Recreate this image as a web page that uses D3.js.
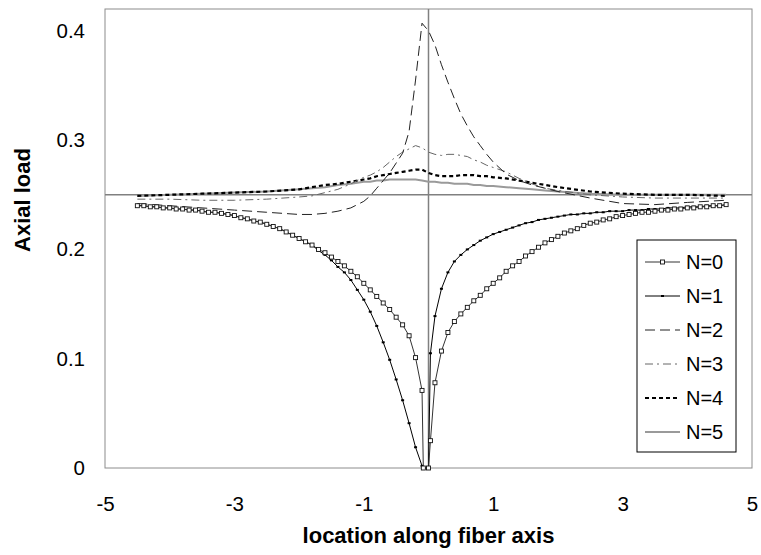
<!DOCTYPE html>
<html>
<head>
<meta charset="utf-8">
<script src="https://cdn.jsdelivr.net/npm/d3@7/dist/d3.min.js"></script>
<style>
  body { margin: 0; background: #fff; }
  text { font-family: "Liberation Sans", Arial, sans-serif; }
</style>
</head>
<body>
<div class="canvas"></div>
<script>
// x grid for the marked series (N=0, N=1)
const xsFine = [-4.5,-4.4,-4.3,-4.2,-4.1,-4.0,-3.9,-3.8,-3.7,-3.6,-3.5,-3.4,-3.3,-3.2,-3.1,-3.0,-2.9,-2.8,-2.7,-2.6,
  -2.5,-2.4,-2.3,-2.2,-2.1,-2.0,-1.9,-1.8,-1.7,-1.6,-1.5,-1.4,-1.3,-1.2,-1.1,-1.0,-0.9,-0.8,-0.7,-0.6,
  -0.5,-0.4,-0.3,-0.2,-0.1,-0.08,0,0.03,0.1,0.2,0.3,0.4,0.5,0.6,0.7,0.8,0.9,1.0,1.1,1.2,1.3,1.4,1.5,1.6,1.7,1.8,1.9,2.0,
  2.1,2.2,2.3,2.4,2.5,2.6,2.7,2.8,2.9,3.0,3.1,3.2,3.3,3.4,3.5,3.6,3.7,3.8,3.9,4.0,4.1,4.2,4.3,4.4,4.5,4.6];

const n0 = [0.240,0.240,0.239,0.239,0.238,0.238,0.237,0.237,0.236,0.236,0.235,0.234,0.234,0.233,0.232,0.231,0.229,0.228,0.226,0.225,
  0.223,0.221,0.219,0.216,0.213,0.210,0.207,0.204,0.200,0.197,0.193,0.189,0.185,0.180,0.175,0.169,0.163,0.157,0.151,0.145,
  0.138,0.131,0.121,0.101,0.071,0.0,0.0,0.025,0.078,0.107,0.124,0.134,0.141,0.147,0.153,0.158,0.164,0.169,0.174,0.180,0.185,0.189,0.194,0.198,0.202,0.206,0.209,0.212,
  0.215,0.217,0.219,0.222,0.224,0.225,0.227,0.228,0.230,0.231,0.232,0.233,0.234,0.234,0.235,0.236,0.236,0.237,0.237,0.238,0.238,0.239,0.239,0.240,0.240,0.241];

const n1 = [0.240,0.240,0.239,0.239,0.238,0.238,0.237,0.237,0.236,0.236,0.235,0.234,0.234,0.233,0.232,0.231,0.229,0.228,0.226,0.225,
  0.223,0.221,0.219,0.216,0.213,0.210,0.207,0.204,0.199,0.195,0.190,0.184,0.179,0.172,0.163,0.154,0.143,0.130,0.115,0.099,
  0.081,0.062,0.041,0.019,0.002,0.0,0.0,0.105,0.139,0.164,0.179,0.189,0.195,0.200,0.204,0.208,0.211,0.214,0.216,0.218,0.220,0.222,0.224,0.225,0.227,0.228,0.229,0.230,
  0.231,0.232,0.232,0.233,0.233,0.234,0.234,0.235,0.235,0.235,0.236,0.236,0.236,0.237,0.237,0.237,0.238,0.238,0.238,0.239,0.239,0.239,0.240,0.240,0.240,0.241];

// coarser grid for the plain lines (N=2..5)
const xsLine = [-4.5,-4.0,-3.5,-3.0,-2.5,-2.0,-1.8,-1.6,-1.4,-1.2,-1.0,-0.9,-0.8,-0.7,-0.6,-0.5,-0.4,-0.3,-0.2,-0.1,
  0.0,0.1,0.2,0.3,0.4,0.5,0.6,0.7,0.8,0.9,1.0,1.2,1.4,1.6,1.8,2.0,2.5,3.0,3.5,4.0,4.6];

const n2 = [0.242,0.240,0.238,0.236,0.234,0.232,0.232,0.233,0.235,0.238,0.244,0.249,0.256,0.263,0.270,0.279,0.288,0.308,0.355,0.407,
  0.400,0.387,0.369,0.353,0.338,0.324,0.313,0.303,0.295,0.287,0.280,0.269,0.263,0.259,0.256,0.253,0.247,0.242,0.241,0.243,0.245];

const n3 = [0.246,0.246,0.245,0.245,0.246,0.248,0.249,0.252,0.255,0.260,0.266,0.268,0.271,0.275,0.280,0.285,0.289,0.292,0.295,0.293,
  0.289,0.287,0.286,0.287,0.287,0.286,0.285,0.282,0.280,0.277,0.275,0.271,0.265,0.260,0.256,0.254,0.250,0.248,0.247,0.247,0.247];

const n4 = [0.249,0.250,0.251,0.252,0.253,0.255,0.257,0.259,0.260,0.262,0.264,0.265,0.267,0.268,0.269,0.270,0.271,0.272,0.273,0.273,
  0.270,0.268,0.267,0.267,0.267,0.268,0.268,0.268,0.267,0.267,0.266,0.265,0.263,0.261,0.259,0.257,0.253,0.251,0.250,0.250,0.249];

const n5 = [0.249,0.250,0.251,0.252,0.253,0.255,0.256,0.257,0.259,0.260,0.262,0.262,0.263,0.263,0.264,0.264,0.264,0.264,0.264,0.263,
  0.262,0.262,0.261,0.261,0.260,0.260,0.260,0.259,0.259,0.258,0.258,0.257,0.256,0.255,0.254,0.253,0.251,0.250,0.250,0.250,0.250];

const seriesNames = ['N=0','N=1','N=2','N=3','N=4','N=5'];
const xTicks = [-5,-3,-1,1,3,5];
const yTicks = [0,0.1,0.2,0.3,0.4];
const refX = 0, refY = 0.25;

const dims = {width: 761, height: 555};
const box = {left: 105, right: 752, top: 9, bottom: 468};

const svg = d3.select('.canvas')
  .append('svg')
  .attr('width', dims.width)
  .attr('height', dims.height);

const x = d3.scaleLinear().domain([-5, 5]).range([box.left, box.right]);
const y = d3.scaleLinear().domain([0, 0.42]).range([box.bottom, box.top]);

// series styles
const styles = [
  {stroke: '#333', width: 1, dash: null, marker: 'square'},
  {stroke: '#000', width: 1, dash: null, marker: 'dot'},
  {stroke: '#222', width: 1, dash: '10,5', marker: null},
  {stroke: '#666', width: 1, dash: '8,4,2,4', marker: null},
  {stroke: '#000', width: 2.2, dash: '4,3', marker: null},
  {stroke: '#9a9a9a', width: 2, dash: null, marker: null}
];

const series = [
  {xs: xsFine, ys: n0}, {xs: xsFine, ys: n1},
  {xs: xsLine, ys: n2}, {xs: xsLine, ys: n3},
  {xs: xsLine, ys: n4}, {xs: xsLine, ys: n5}
].map((s, i) => ({name: seriesNames[i], style: styles[i], pts: s.xs.map((v, j) => [v, s.ys[j]])}));

// frame
svg.append('rect')
  .attr('x', box.left).attr('y', box.top)
  .attr('width', box.right - box.left).attr('height', box.bottom - box.top)
  .attr('fill', 'none').attr('stroke', '#8c8c8c').attr('stroke-width', 1);

// axes through the origin of load
svg.append('line')
  .attr('x1', box.left).attr('x2', box.right)
  .attr('y1', y(refY)).attr('y2', y(refY))
  .attr('stroke', '#808080').attr('stroke-width', 1.5);
svg.append('line')
  .attr('x1', x(refX)).attr('x2', x(refX))
  .attr('y1', box.top).attr('y2', box.bottom)
  .attr('stroke', '#808080').attr('stroke-width', 1.5);

// tick labels (plain hyphen like the original)
const yAxis = svg.append('g')
  .attr('transform', `translate(${box.left},0)`)
  .call(d3.axisLeft(y).tickValues(yTicks).tickSize(0).tickPadding(20)
    .tickFormat(d => d === 0 ? '0' : d3.format('.1f')(d)));
const xAxis = svg.append('g')
  .attr('transform', `translate(0,${box.bottom})`)
  .call(d3.axisBottom(x).tickValues(xTicks).tickSize(0).tickPadding(28)
    .tickFormat(d => String(d)));
[yAxis, xAxis].forEach(a => {
  a.select('.domain').remove();
  a.selectAll('text').attr('font-size', 20.5).attr('fill', '#000')
    .style('font-family', '"Liberation Sans", Arial, sans-serif');
});

// titles
svg.append('text')
  .attr('x', x(0)).attr('y', 543)
  .attr('text-anchor', 'middle').attr('font-size', 22).attr('font-weight', 'bold')
  .text('location along fiber axis');
svg.append('text')
  .attr('transform', 'translate(30,200) rotate(-90)')
  .attr('text-anchor', 'middle').attr('font-size', 22).attr('font-weight', 'bold')
  .text('Axial load');

const line = d3.line().x(d => x(d[0])).y(d => y(d[1]));

const drawMarkers = (g, pts, kind, cx, cy) => {
  if (kind === 'square') {
    g.selectAll('rect.m').data(pts).enter().append('rect')
      .attr('class', 'm')
      .attr('x', d => cx(d) - 2).attr('y', d => cy(d) - 2)
      .attr('width', 4).attr('height', 4)
      .attr('fill', '#fff').attr('stroke', '#111').attr('stroke-width', 0.9);
  } else if (kind === 'dot') {
    g.selectAll('rect.m').data(pts).enter().append('rect')
      .attr('class', 'm')
      .attr('x', d => cx(d) - 1.5).attr('y', d => cy(d) - 1)
      .attr('width', 3).attr('height', 2)
      .attr('fill', '#000');
  }
};

// draw N=5 first so the marked curves sit on top
series.slice().reverse().forEach(s => {
  const g = svg.append('g').attr('class', 'series');
  g.append('path')
    .attr('d', line(s.pts))
    .attr('fill', 'none')
    .attr('stroke', s.style.stroke)
    .attr('stroke-width', s.style.width)
    .attr('stroke-dasharray', s.style.dash);
  drawMarkers(g, s.pts, s.style.marker, d => x(d[0]), d => y(d[1]));
});

// legend
const legend = {left: 637, top: 240, width: 99, rowH: 34, firstRow: 262};
svg.append('rect')
  .attr('x', legend.left).attr('y', legend.top)
  .attr('width', legend.width).attr('height', legend.firstRow - legend.top + legend.rowH * 5 + 20)
  .attr('fill', '#fff').attr('stroke', '#000').attr('stroke-width', 1);

series.forEach((s, i) => {
  const ly = legend.firstRow + i * legend.rowH;
  const g = svg.append('g');
  const sample = [[645, ly], [680, ly]];
  g.append('path')
    .attr('d', d3.line()(sample))
    .attr('fill', 'none')
    .attr('stroke', s.style.stroke)
    .attr('stroke-width', s.style.width)
    .attr('stroke-dasharray', s.style.dash);
  drawMarkers(g, [[662.5, ly]], s.style.marker, d => d[0], d => d[1]);
  g.append('text')
    .attr('x', 686).attr('y', ly)
    .attr('dy', '0.35em')
    .attr('font-size', 20)
    .text(s.name);
});
</script>
</body>
</html>
